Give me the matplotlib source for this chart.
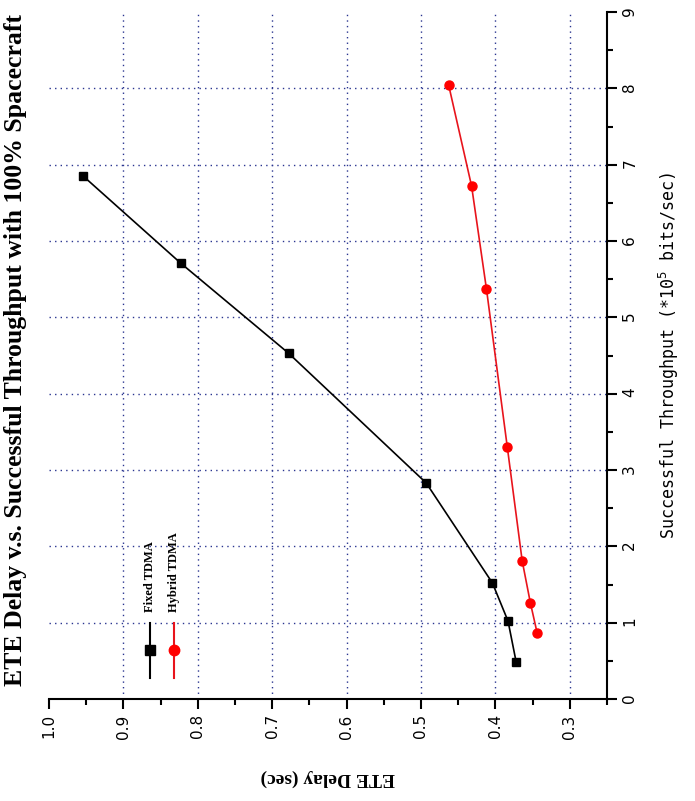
import matplotlib
matplotlib.use("Agg")
import matplotlib.pyplot as plt
import numpy as np
from matplotlib.ticker import MultipleLocator, FormatStrFormatter

# Data (ETE delay in sec, throughput in *10^5 bits/sec)
fixed_delay = [0.954, 0.823, 0.678, 0.493, 0.404, 0.383, 0.372]
fixed_thr = [6.85, 5.71, 4.53, 2.83, 1.52, 1.02, 0.48]
hybrid_delay = [0.463, 0.432, 0.412, 0.384, 0.364, 0.353, 0.344]
hybrid_thr = [8.05, 6.72, 5.37, 3.30, 1.81, 1.26, 0.87]

series_labels = ["Fixed TDMA", "Hybrid TDMA"]
title = "ETE Delay v.s. Successful Throughput with 100% Spacecraft"
xlabel = "ETE Delay (sec)"
ylabel = r"Successful Throughput (*10$^5$ bits/sec)"

W, H = 695, 801
fig = plt.figure(figsize=(W / 100, H / 100), dpi=100)
L, R, T, B = 49, 607, 12, 699
ax = fig.add_axes([L / W, (H - B) / H, (R - L) / W, (B - T) / H])

ax.plot(fixed_delay, fixed_thr, color="black", lw=1.2, marker="s", ms=6,
        mfc="black", mec="black", zorder=3)
ax.plot(hybrid_delay, hybrid_thr, color="#e8141c", lw=1.2, marker="o", ms=6.5,
        mfc="#ff0000", mec="#ff0000", zorder=3)

ax.set_xlim(1.0, 0.25)
ax.set_ylim(0, 9)
ax.xaxis.set_major_locator(MultipleLocator(0.1))
ax.xaxis.set_minor_locator(MultipleLocator(0.05))
ax.yaxis.set_major_locator(MultipleLocator(1))
ax.yaxis.set_minor_locator(MultipleLocator(0.5))
ax.xaxis.set_major_formatter(FormatStrFormatter("%.1f"))

ax.spines["left"].set_visible(False)
ax.spines["top"].set_visible(False)
ax.spines["bottom"].set_linewidth(1.5)
ax.spines["right"].set_linewidth(1.5)
ax.yaxis.tick_right()
ax.yaxis.set_label_position("right")
ax.tick_params(axis="both", which="major", direction="out", length=7, width=1.5,
               labelsize=11, labelrotation=90, pad=4)
ax.tick_params(axis="both", which="minor", direction="out", length=4, width=1.5)

ax.grid(True, which="major", color="#2a3590", linestyle=(0, (1, 3)), lw=1.0)
ax.set_axisbelow(True)
fig.canvas.draw()
for tick in ax.xaxis.get_major_ticks():
    if abs(tick.get_loc() - 1.0) < 1e-6:
        tick.gridline.set_visible(False)
for tick in ax.yaxis.get_major_ticks():
    if abs(tick.get_loc() - 9) < 1e-6 or abs(tick.get_loc()) < 1e-6:
        tick.gridline.set_visible(False)

ax.set_xlabel(xlabel, family="Liberation Serif", fontweight="bold", fontsize=14,
              rotation=180, labelpad=22)
ax.set_ylabel(ylabel, family="DejaVu Sans Mono", fontsize=12, rotation=90,
              labelpad=14)

fig.text(16 / W, 0.563, title, rotation=90, family="Liberation Serif",
         fontweight="bold", fontsize=18.5, ha="center", va="center")

# Legend (manual, rotated)
lx = [(150 - L) / (R - L), (174 - L) / (R - L)]
ly0, ly1, lym = 0.031, 0.111, 0.071
styles = [dict(color="black", marker="s", ms=6, mfc="black", mec="black"),
          dict(color="#e8141c", marker="o", ms=6.5, mfc="#ff0000", mec="#ff0000")]
for x, st, lab in zip(lx, styles, series_labels):
    ax.plot([x, x], [ly0, ly1], transform=ax.transAxes, color=st["color"], lw=1.5,
            clip_on=False, zorder=4)
    ax.plot([x], [lym], transform=ax.transAxes, ls="none", marker=st["marker"],
            ms=st["ms"] + 1, mfc=st["mfc"], mec=st["mec"], clip_on=False, zorder=4)
    ax.text(x, 0.127, lab, transform=ax.transAxes, rotation=90, ha="center",
            va="bottom", family="Liberation Serif", fontweight="bold", fontsize=9)

fig.savefig("out.png", dpi=100)
